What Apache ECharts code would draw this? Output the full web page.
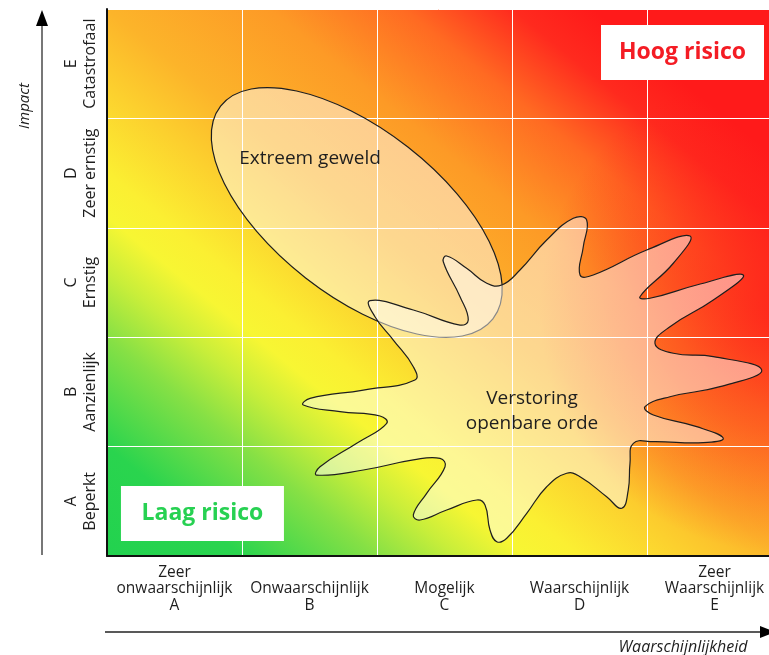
<!DOCTYPE html>
<html>
<head>
<meta charset="utf-8">
<script src="https://cdn.jsdelivr.net/npm/echarts@6/dist/echarts.min.js"></script>
<style>
  html, body { margin: 0; padding: 0; background: #fff; }
  #chart { width: 769px; height: 655px; }
</style>
</head>
<body>
<div id="chart"></div>
<script>
// klassen op de assen (y van onder naar boven)
const likelihood = [
  'Zeer\nonwaarschijnlijk\nA',
  ' \nOnwaarschijnlijk\nB',
  ' \nMogelijk\nC',
  ' \nWaarschijnlijk\nD',
  'Zeer\nWaarschijnlijk\nE'
];
const impact = ['A\nBeperkt', 'B\nAanzienlijk', 'C\nErnstig', 'D\nZeer ernstig', 'E\nCatastrofaal'];

// "Extreem geweld": centre in cells, semi axes in column widths, tilt in degrees
const violenceCentre = [1.85, 3.14];
const violenceAxes = [1.28, 0.615];
const violenceTilt = 38;

// "Verstoring openbare orde": outline, in cells
const unrestOutline = [
  [1.948, 2.334], [2.269, 2.249], [2.615, 2.111], [2.676, 2.157], [2.615, 2.370],
  [2.491, 2.690], [2.516, 2.742], [2.664, 2.630], [2.813, 2.493], [2.924, 2.477],
  [3.059, 2.614], [3.257, 2.888], [3.454, 3.087], [3.553, 3.071], [3.528, 2.827],
  [3.504, 2.569], [3.602, 2.569], [3.998, 2.797], [4.319, 2.925], [4.195, 2.676],
  [3.948, 2.370], [4.022, 2.356], [4.368, 2.477], [4.713, 2.569], [4.491, 2.340],
  [4.170, 2.096], [4.059, 1.944], [4.195, 1.853], [4.491, 1.822], [4.850, 1.700],
  [4.541, 1.548], [4.170, 1.456], [3.985, 1.365], [4.047, 1.289], [4.368, 1.182],
  [4.565, 1.076], [4.417, 1.036], [4.047, 1.045], [3.899, 1.030], [3.874, 0.847],
  [3.861, 0.603], [3.813, 0.436], [3.701, 0.542], [3.504, 0.725], [3.405, 0.756],
  [3.257, 0.633], [3.109, 0.390], [2.961, 0.162], [2.887, 0.131], [2.837, 0.238],
  [2.800, 0.466], [2.739, 0.512], [2.516, 0.420], [2.319, 0.329], [2.269, 0.375],
  [2.368, 0.573], [2.504, 0.816], [2.467, 0.893], [2.269, 0.878], [1.899, 0.786],
  [1.553, 0.740], [1.578, 0.816], [1.850, 1.030], [2.072, 1.213], [2.022, 1.280],
  [1.726, 1.319], [1.454, 1.380], [1.504, 1.441], [1.899, 1.517], [2.281, 1.609],
  [2.269, 1.730], [2.121, 1.974], [1.985, 2.187]
];

const areaNames = ['Extreem geweld', 'Verstoring\nopenbare orde'];
const areaNameAt = [[1.504, 3.635], [3.148, 1.325]];

const riskNames = ['Hoog risico', 'Laag risico'];
const riskNameAt = [[4.263, 4.602], [0.707, 0.388]];
const riskColors = ['#f41c24', '#27d152'];

const FONT = '"Open Sans", "Noto Sans", sans-serif';

var myChart = echarts.init(document.getElementById('chart'));

function background(params, api) {
  const tl = api.coord([0, 5]);
  const br = api.coord([5, 0]);
  const w = br[0] - tl[0];
  const h = br[1] - tl[1];
  // diagonal blend: equal colours run parallel to the box diagonal
  const k = 2 * w * h / (w * w + h * h);
  const base = new echarts.graphic.LinearGradient(
    tl[0], br[1], tl[0] + h * k, br[1] - w * k,
    [
      { offset: 0, color: '#22d24f' },
      { offset: 0.1, color: '#2ad44e' },
      { offset: 0.2, color: '#86e045' },
      { offset: 0.26, color: '#c8ee3a' },
      { offset: 0.31, color: '#f7f633' },
      { offset: 0.35, color: '#fbef32' },
      { offset: 0.43, color: '#fcd02e' },
      { offset: 0.5, color: '#fcb42a' },
      { offset: 0.62, color: '#fd9a26' },
      { offset: 0.72, color: '#ff6a22' },
      { offset: 0.8, color: '#ff2a1e' },
      { offset: 0.86, color: '#ff1a1a' },
      { offset: 1, color: '#ff1a1a' }
    ], true);
  const hot = new echarts.graphic.RadialGradient(
    br[0], tl[1] + h * 0.55, w * 0.36,
    [
      { offset: 0, color: 'rgba(255,26,26,0.85)' },
      { offset: 0.5, color: 'rgba(255,26,26,0.45)' },
      { offset: 1, color: 'rgba(255,26,26,0)' }
    ], true);
  return {
    type: 'group',
    children: [
      { type: 'rect', shape: { x: tl[0], y: tl[1], width: w, height: h }, style: { fill: base } },
      { type: 'rect', shape: { x: tl[0], y: tl[1], width: w, height: h }, style: { fill: hot } }
    ]
  };
}

function violence(params, api) {
  const c = api.coord(violenceCentre);
  const col = api.size([1, 0])[0];
  return {
    type: 'ellipse',
    x: c[0],
    y: c[1],
    rotation: -violenceTilt * Math.PI / 180,
    shape: { cx: 0, cy: 0, rx: violenceAxes[0] * col, ry: violenceAxes[1] * col },
    style: { fill: 'rgba(255,255,255,0.48)', stroke: '#1e1e1e', lineWidth: 1.2 }
  };
}

function unrest(params, api) {
  return {
    type: 'polygon',
    shape: { points: unrestOutline.map(p => api.coord(p)), smooth: 0.45 },
    style: { fill: 'rgba(255,255,255,0.48)', stroke: '#1e1e1e', lineWidth: 1.2 }
  };
}

function areaName(params, api) {
  const c = api.coord(areaNameAt[params.dataIndex]);
  return {
    type: 'text',
    x: c[0],
    y: c[1],
    style: {
      text: areaNames[params.dataIndex],
      font: '19px ' + FONT,
      lineHeight: 25,
      fill: '#1e1e1e',
      align: 'center',
      verticalAlign: 'middle'
    }
  };
}

function riskName(params, api) {
  const c = api.coord(riskNameAt[params.dataIndex]);
  return {
    type: 'group',
    children: [
      { type: 'rect', shape: { x: c[0] - 81.5, y: c[1] - 27.5, width: 163, height: 55 }, style: { fill: '#fff' } },
      {
        type: 'text', x: c[0], y: c[1],
        style: {
          text: riskNames[params.dataIndex],
          font: 'bold 23px ' + FONT,
          fill: riskColors[params.dataIndex],
          align: 'center',
          verticalAlign: 'middle'
        }
      }
    ]
  };
}

const option = {
  animation: false,
  // the right-hand column runs past the edge of the picture
  grid: { left: 107, top: 9, width: 675, height: 547, outerBoundsMode: 'none', containLabel: false },
  xAxis: [
    {
      type: 'category',
      data: likelihood,
      z: 1,
      axisLine: { lineStyle: { color: '#111', width: 2 } },
      axisTick: { show: false },
      axisLabel: { interval: 0, margin: 8, color: '#1e1e1e', fontSize: 15.5, lineHeight: 16.5, fontFamily: FONT },
      splitLine: { show: true, interval: 0, lineStyle: { color: '#fff', width: 1 } }
    },
    { type: 'value', min: 0, max: 5, show: false }
  ],
  yAxis: [
    {
      type: 'category',
      data: impact,
      z: 1,
      axisLine: { lineStyle: { color: '#111', width: 2 } },
      axisTick: { show: false },
      axisLabel: { interval: 0, rotate: 90, margin: 7, color: '#1e1e1e', fontSize: 16, lineHeight: 19, fontFamily: FONT },
      splitLine: { show: true, interval: 0, lineStyle: { color: '#fff', width: 1 } }
    },
    { type: 'value', min: 0, max: 5, show: false }
  ],
  graphic: [
    { type: 'line', shape: { x1: 42, y1: 555, x2: 42, y2: 24 }, style: { stroke: '#555', lineWidth: 1.6 } },
    { type: 'polygon', shape: { points: [[36, 26], [48, 26], [42, 10]] }, style: { fill: '#000' } },
    {
      type: 'text', x: 25, y: 106, rotation: Math.PI / 2,
      style: { text: 'Impact', font: 'italic 15px ' + FONT, fill: '#1e1e1e', align: 'center', verticalAlign: 'middle' }
    },
    { type: 'line', shape: { x1: 105, y1: 632, x2: 762, y2: 632 }, style: { stroke: '#222', lineWidth: 1.6 } },
    { type: 'polygon', shape: { points: [[760, 626], [760, 638], [775, 632]] }, style: { fill: '#000' } },
    {
      type: 'text', x: 683, y: 647,
      style: { text: 'Waarschijnlijkheid', font: 'italic 16px ' + FONT, fill: '#1e1e1e', align: 'center', verticalAlign: 'middle' }
    }
  ],
  series: [
    { type: 'custom', name: 'achtergrond', xAxisIndex: 1, yAxisIndex: 1, z: 0, silent: true, data: [0], renderItem: background },
    { type: 'custom', name: 'Extreem geweld', xAxisIndex: 1, yAxisIndex: 1, z: 3, silent: true, data: [0], renderItem: violence },
    { type: 'custom', name: 'Verstoring openbare orde', xAxisIndex: 1, yAxisIndex: 1, z: 4, silent: true, data: [0], renderItem: unrest },
    { type: 'custom', name: 'namen', xAxisIndex: 1, yAxisIndex: 1, z: 5, silent: true, data: areaNames.map((n, i) => i), renderItem: areaName },
    { type: 'custom', name: 'risico', xAxisIndex: 1, yAxisIndex: 1, z: 5, silent: true, data: riskNames.map((n, i) => i), renderItem: riskName }
  ]
};

myChart.setOption(option);
</script>
</body>
</html>
